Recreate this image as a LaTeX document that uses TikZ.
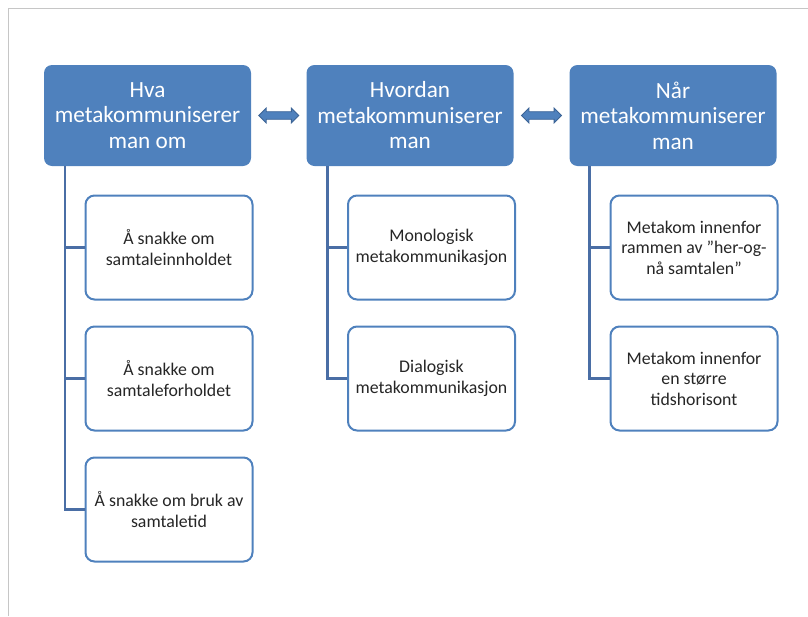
\documentclass[tikz,border=0pt]{standalone}
\usepackage{fontspec}
\setmainfont{Carlito}
\usetikzlibrary{shapes.arrows,calc}
\definecolor{hdrblue}{HTML}{4F81BD}
\definecolor{lineblue}{HTML}{4A6EA5}
\definecolor{arrowedge}{HTML}{3C6496}
\tikzset{
  header/.style={rectangle, rounded corners=8pt, fill=hdrblue, draw=none,
    minimum width=207pt, minimum height=101pt, text=white, align=center,
    font=\fontsize{23.2}{25.5}\selectfont},
  child/.style={rectangle, rounded corners=9pt, fill=white, draw=hdrblue, line width=2pt,
    minimum width=167pt, minimum height=104pt, text=black!85, align=center,
    font=\fontsize{17.8}{20.5}\selectfont},
  conn/.style={draw=lineblue, line width=2.4pt},
  dbl/.style={double arrow, fill=hdrblue, draw=arrowedge, line width=0.8pt,
    minimum height=40pt, inner xsep=0pt, inner ysep=3.4pt, text height=0pt, text depth=0pt,
    double arrow head extend=3.6pt},
}
\begin{document}
\begin{tikzpicture}[x=1pt,y=-1pt]
\useasboundingbox (0,0) rectangle (808,616);
\draw[gray!45, line width=1.4pt] (8.5,616) -- (8.5,8.5) -- (808,8.5);
% headers
\node[header] (h1) at (147.5,115.5) {Hva\\metakommuniserer\\man om};
\node[header] (h2) at (410,115.5) {Hvordan\\metakommuniserer\\man};
\node[header] (h3) at (673,115.5) {Når\\metakommuniserer\\man};
% children
\node[child] (c11) at (169,247.5) {Å snakke om\\samtaleinnholdet};
\node[child] (c12) at (169,378.5) {Å snakke om\\samtaleforholdet};
\node[child] (c13) at (169,509.5) {Å snakke om bruk av\\samtaletid};
\node[child] (c21) at (431.5,247.5) {Monologisk\\metakommunikasjon};
\node[child] (c22) at (431.5,378.5) {Dialogisk\\metakommunikasjon};
\node[child] (c31) at (694,247.5) {Metakom innenfor\\rammen av ”her-og-\\nå samtalen”};
\node[child] (c32) at (694,378.5) {Metakom innenfor\\en større\\tidshorisont};
% connectors
\draw[conn] ([xshift=21pt]h1.south west) |- (c13.west);
\draw[conn] ([xshift=21pt]h1.south west |- c11.west) -- (c11.west);
\draw[conn] ([xshift=21pt]h1.south west |- c12.west) -- (c12.west);
\draw[conn] ([xshift=21pt]h2.south west) |- (c22.west);
\draw[conn] ([xshift=21pt]h2.south west |- c21.west) -- (c21.west);
\draw[conn] ([xshift=20pt]h3.south west) |- (c32.west);
\draw[conn] ([xshift=20pt]h3.south west |- c31.west) -- (c31.west);
% double arrows
\node[dbl] (a1) at ($(h1.east)!0.5!(h2.west)$) {};
\node[dbl] (a2) at ($(h2.east)!0.5!(h3.west)$) {};
\end{tikzpicture}
\end{document}
